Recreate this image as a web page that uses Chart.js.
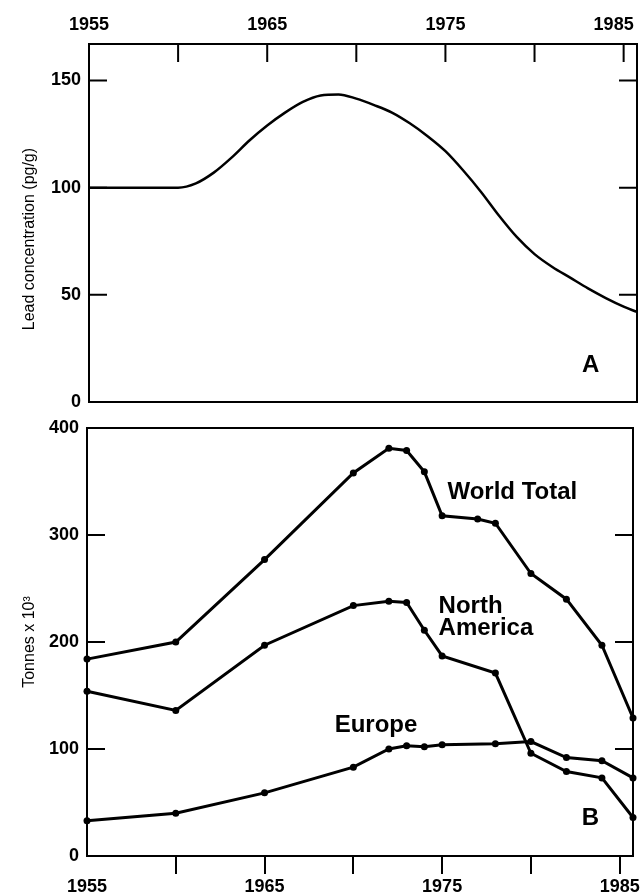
<!DOCTYPE html>
<html>
<head>
<title>Lead</title>
<script src="https://cdn.jsdelivr.net/npm/chart.js"></script>
<style>
body { margin: 0; background: #fff; }
.box { position: absolute; left: 0; width: 644px; }
#boxA { top: 0; height: 412px; }
#boxB { top: 412px; height: 482px; }
</style>
</head>
<body>
<div class="box" id="boxA"><canvas id="chartA"></canvas></div>
<div class="box" id="boxB"><canvas id="chartB"></canvas></div>
<script>
// panel A - lead concentration in snow (smooth curve)
const leadYears = [1955, 1957, 1959, 1960, 1961, 1962, 1963, 1964, 1965, 1966, 1967, 1968, 1969, 1970, 1971, 1972, 1973, 1974, 1975, 1976, 1977, 1978, 1979, 1980, 1981, 1982, 1983, 1984, 1985, 1985.75];
const leadValues = [100, 100, 100, 100, 102, 107, 114, 122, 129, 135, 140, 143, 143.5, 141.5, 138.5, 135, 130, 124, 117, 108, 98, 87, 77, 69, 63, 58, 53, 48.5, 44.5, 42];

// panel B - tonnes x 10^3
const worldYears = [1955, 1960, 1965, 1970, 1972, 1973, 1974, 1975, 1977, 1978, 1980, 1982, 1984, 1985.75];
const worldValues = [184, 200, 277, 358, 381, 379, 359, 318, 315, 311, 264, 240, 197, 129];
const naYears = [1955, 1960, 1965, 1970, 1972, 1973, 1974, 1975, 1978, 1980, 1982, 1984, 1985.75];
const naValues = [154, 136, 197, 234, 238, 237, 211, 187, 171, 96, 79, 73, 36];
const euYears = [1955, 1960, 1965, 1970, 1972, 1973, 1974, 1975, 1978, 1980, 1982, 1984, 1985.75];
const euValues = [33, 40, 59, 83, 100, 103, 102, 104, 105, 107, 92, 89, 73];

const xTicks = [1955, 1960, 1965, 1970, 1975, 1980, 1985];
const yTicksA = [0, 50, 100, 150];
const yTicksB = [0, 100, 200, 300, 400];

const FONT = "'Liberation Sans', Arial, Helvetica, sans-serif";
const pts = (xs, ys) => xs.map((x, i) => ({x: x, y: ys[i]}));

// box around the plot + inward tick marks + text labels
const framePlugin = {
  id: 'frame',
  afterDraw(chart, args, opts) {
    const {ctx, chartArea: a, scales: {x, y}} = chart;
    const len = opts.len;
    ctx.save();
    ctx.strokeStyle = '#000';
    ctx.lineWidth = 2;
    ctx.strokeRect(a.left, a.top, a.right - a.left, a.bottom - a.top);
    ctx.beginPath();
    (opts.xTop || []).forEach(v => {
      const px = x.getPixelForValue(v);
      ctx.moveTo(px, a.top);
      ctx.lineTo(px, a.top + len);
    });
    (opts.yIn || []).forEach(v => {
      const py = y.getPixelForValue(v);
      ctx.moveTo(a.left, py);
      ctx.lineTo(a.left + len, py);
      ctx.moveTo(a.right, py);
      ctx.lineTo(a.right - len, py);
    });
    ctx.stroke();
    ctx.fillStyle = '#000';
    ctx.font = 'bold 24px ' + FONT;
    ctx.textBaseline = 'middle';
    (opts.labels || []).forEach(l => {
      ctx.textAlign = l.align || 'left';
      ctx.fillText(l.text, x.getPixelForValue(l.x), y.getPixelForValue(l.y));
    });
    if (opts.yTitle) {
      ctx.font = '16px ' + FONT;
      ctx.textAlign = 'center';
      ctx.translate(opts.yTitle.left, y.getPixelForValue(opts.yTitle.y));
      ctx.rotate(-Math.PI / 2);
      ctx.fillText(opts.yTitle.text, 0, 0);
    }
    ctx.restore();
  }
};

const tickFont = {family: FONT, size: 18, weight: 'bold'};
const titleFont = {family: FONT, size: 16};
const yearLabel = v => ((v - 1955) % 10 === 0 ? String(v) : '');
// top axis: last year label sits a bit left of its tick so it stays inside the page
const yearLabelTop = v => (v === 1985 ? '1985    ' : yearLabel(v));
const noPadX = s => { s.paddingLeft = 0; s.paddingRight = 0; };
const noPadY = s => { s.paddingTop = 0; s.paddingBottom = 0; };

const chartA = new Chart(document.getElementById('chartA'), {
  type: 'line',
  data: {
    datasets: [{
      data: pts(leadYears, leadValues),
      borderColor: '#000',
      borderWidth: 2.5,
      pointRadius: 0,
      cubicInterpolationMode: 'monotone',
      clip: false
    }]
  },
  options: {
    responsive: true,
    maintainAspectRatio: false,
    animation: false,
    layout: {padding: {left: 0, right: 7, top: 0, bottom: 10}},
    plugins: {
      legend: {display: false},
      tooltip: {enabled: false},
      frame: {
        len: 18,
        xTop: xTicks,
        yIn: [50, 100, 150],
        labels: [{text: 'A', x: 1983.15, y: 17, align: 'center'}],
        yTitle: {text: 'Lead concentration (pg/g)', left: 30, y: 76}
      }
    },
    scales: {
      x: {
        type: 'linear',
        position: 'top',
        min: 1955,
        max: 1985.75,
        afterBuildTicks: s => { s.ticks = xTicks.map(v => ({value: v})); },
        afterFit: s => { s.height = 44; noPadX(s); },
        grid: {display: false},
        border: {display: false},
        ticks: {font: tickFont, color: '#000', padding: 0, maxRotation: 0, autoSkip: false, callback: yearLabelTop}
      },
      y: {
        min: 0,
        max: 167,
        afterBuildTicks: s => { s.ticks = yTicksA.map(v => ({value: v})); },
        afterFit: s => { s.width = 89; noPadY(s); },
        grid: {display: false},
        border: {display: false},
        ticks: {font: tickFont, color: '#000', padding: 0}
      }
    }
  },
  plugins: [framePlugin]
});

const lineStyle = {
  borderColor: '#000',
  backgroundColor: '#000',
  borderWidth: 3,
  pointRadius: 3.5,
  pointBackgroundColor: '#000',
  pointBorderWidth: 0,
  tension: 0,
  clip: false
};

const chartB = new Chart(document.getElementById('chartB'), {
  type: 'line',
  data: {
    datasets: [
      Object.assign({label: 'World Total', data: pts(worldYears, worldValues)}, lineStyle),
      Object.assign({label: 'North America', data: pts(naYears, naValues)}, lineStyle),
      Object.assign({label: 'Europe', data: pts(euYears, euValues)}, lineStyle)
    ]
  },
  options: {
    responsive: true,
    maintainAspectRatio: false,
    animation: false,
    layout: {padding: {left: 0, right: 11, top: 16, bottom: 0}},
    plugins: {
      legend: {display: false},
      tooltip: {enabled: false},
      frame: {
        len: 18,
        yIn: [100, 200, 300],
        labels: [
          {text: 'World Total', x: 1975.3, y: 340},
          {text: 'North', x: 1974.8, y: 233},
          {text: 'America', x: 1974.8, y: 213},
          {text: 'Europe', x: 1968.95, y: 122},
          {text: 'B', x: 1983.35, y: 35, align: 'center'}
        ]
      }
    },
    scales: {
      x: {
        type: 'linear',
        position: 'bottom',
        min: 1955,
        max: 1985.75,
        afterBuildTicks: s => { s.ticks = xTicks.map(v => ({value: v})); },
        afterFit: s => { s.height = 38; noPadX(s); },
        grid: {
          display: true, drawOnChartArea: false, drawTicks: true, tickLength: 18, lineWidth: 2,
          color: c => (c.tick && c.tick.value === 1955 ? 'rgba(0,0,0,0)' : '#000')
        },
        border: {display: false},
        ticks: {font: tickFont, color: '#000', padding: 2, maxRotation: 0, autoSkip: false, callback: yearLabel}
      },
      y: {
        min: 0,
        max: 400,
        afterBuildTicks: s => { s.ticks = yTicksB.map(v => ({value: v})); },
        afterFit: s => { s.width = 87; noPadY(s); },
        grid: {display: false},
        border: {display: false},
        ticks: {font: tickFont, color: '#000', padding: 0},
        title: {display: true, text: 'Tonnes x 10³', font: titleFont, color: '#000', padding: {top: 20, bottom: 0}}
      }
    }
  },
  plugins: [framePlugin]
});
</script>
</body>
</html>
